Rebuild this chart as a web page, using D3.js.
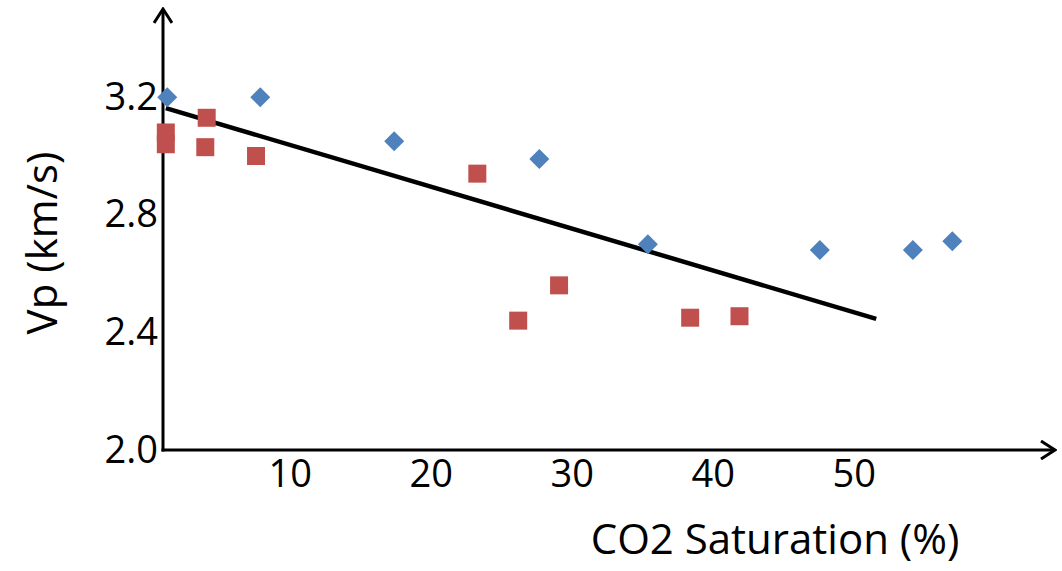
<!DOCTYPE html>
<html>
<head>
<meta charset="utf-8">
<script src="https://cdn.jsdelivr.net/npm/d3@7"></script>
<style>
  body { margin: 0; background: #fff; }
  text { font-family: "Open Sans", "Noto Sans", sans-serif; fill: #000; }
</style>
</head>
<body>
<div id="chart"></div>
<script>
// CO2 saturation (%) vs Vp (km/s)
var blueX = [1.3, 7.9, 17.4, 27.7, 35.4, 47.6, 54.2, 57.0];
var blueY = [3.20, 3.20, 3.05, 2.99, 2.70, 2.68, 2.68, 2.71];

var redX = [1.2, 1.2, 4.1, 4.0, 7.6, 23.3, 26.2, 29.1, 38.4, 41.9];
var redY = [3.08, 3.04, 3.13, 3.03, 3.00, 2.94, 2.44, 2.56, 2.45, 2.455];

var trendX = [1.2, 51.6];
var trendY = [3.163, 2.446];

var xTicks = [10, 20, 30, 40, 50];
var yTicks = [2.0, 2.4, 2.8, 3.2];

var width = 1062,
    height = 571;

var svg = d3.select("#chart").append("svg")
    .attr("width", width)
    .attr("height", height);

var x = d3.scaleLinear().domain([1, 64]).range([163, 1051]);
var y = d3.scaleLinear().domain([2.0, 3.5]).range([450, 9]);

// arrow heads (open chevrons)
svg.append("defs").append("marker")
    .attr("id", "arrow")
    .attr("viewBox", "0 0 20 20")
    .attr("refX", 18)
    .attr("refY", 10)
    .attr("markerWidth", 20)
    .attr("markerHeight", 20)
    .attr("markerUnits", "userSpaceOnUse")
    .attr("orient", "auto")
    .append("path")
    .attr("d", "M4,1L18,10L4,19")
    .attr("fill", "none")
    .attr("stroke", "#000")
    .attr("stroke-width", 3);

// axes lines
svg.append("line")
    .attr("x1", x.range()[0]).attr("y1", y.range()[0] + 1.5)
    .attr("x2", x.range()[0]).attr("y2", y.range()[1])
    .attr("stroke", "#000").attr("stroke-width", 3)
    .attr("marker-end", "url(#arrow)");

svg.append("line")
    .attr("x1", x.range()[0] - 1.5).attr("y1", y.range()[0])
    .attr("x2", x.range()[1] + 4).attr("y2", y.range()[0])
    .attr("stroke", "#000").attr("stroke-width", 3)
    .attr("marker-end", "url(#arrow)");

// tick labels
var xAxis = svg.append("g")
    .attr("transform", "translate(0," + y.range()[0] + ")")
    .call(d3.axisBottom(x).tickValues(xTicks).tickSize(0).tickPadding(10));

var yAxis = svg.append("g")
    .attr("transform", "translate(" + x.range()[0] + ",0)")
    .call(d3.axisLeft(y).tickValues(yTicks).tickFormat(d3.format(".1f")).tickSize(0).tickPadding(5));

[xAxis, yAxis].forEach(function (g) {
    g.select(".domain").remove();
    g.selectAll("text")
        .attr("fill", "#000")
        .style("font-size", "38px")
        .style("font-family", "'Open Sans', sans-serif");
});

// trendline
svg.append("path")
    .datum(d3.zip(trendX, trendY))
    .attr("fill", "none")
    .attr("stroke", "#000")
    .attr("stroke-width", 4.5)
    .attr("d", d3.line().x(function (d) { return x(d[0]); }).y(function (d) { return y(d[1]); }));

// red squares
svg.append("g").selectAll("path")
    .data(d3.zip(redX, redY))
    .enter().append("path")
    .attr("d", d3.symbol().type(d3.symbolSquare).size(324))
    .attr("transform", function (d) { return "translate(" + x(d[0]) + "," + y(d[1]) + ")"; })
    .attr("fill", "#C0504D");

// blue diamonds
svg.append("g").selectAll("path")
    .data(d3.zip(blueX, blueY))
    .enter().append("path")
    .attr("d", d3.symbol().type(d3.symbolSquare).size(200))
    .attr("transform", function (d) { return "translate(" + x(d[0]) + "," + y(d[1]) + ") rotate(45)"; })
    .attr("fill", "#4F81BD");

// axis titles
svg.append("text")
    .attr("x", 775)
    .attr("y", 554)
    .attr("text-anchor", "middle")
    .style("font-size", "42px")
    .text("CO2 Saturation (%)");

svg.append("text")
    .attr("transform", "translate(57,243) rotate(-90)")
    .attr("text-anchor", "middle")
    .style("font-size", "42px")
    .text("Vp (km/s)");
</script>
</body>
</html>
